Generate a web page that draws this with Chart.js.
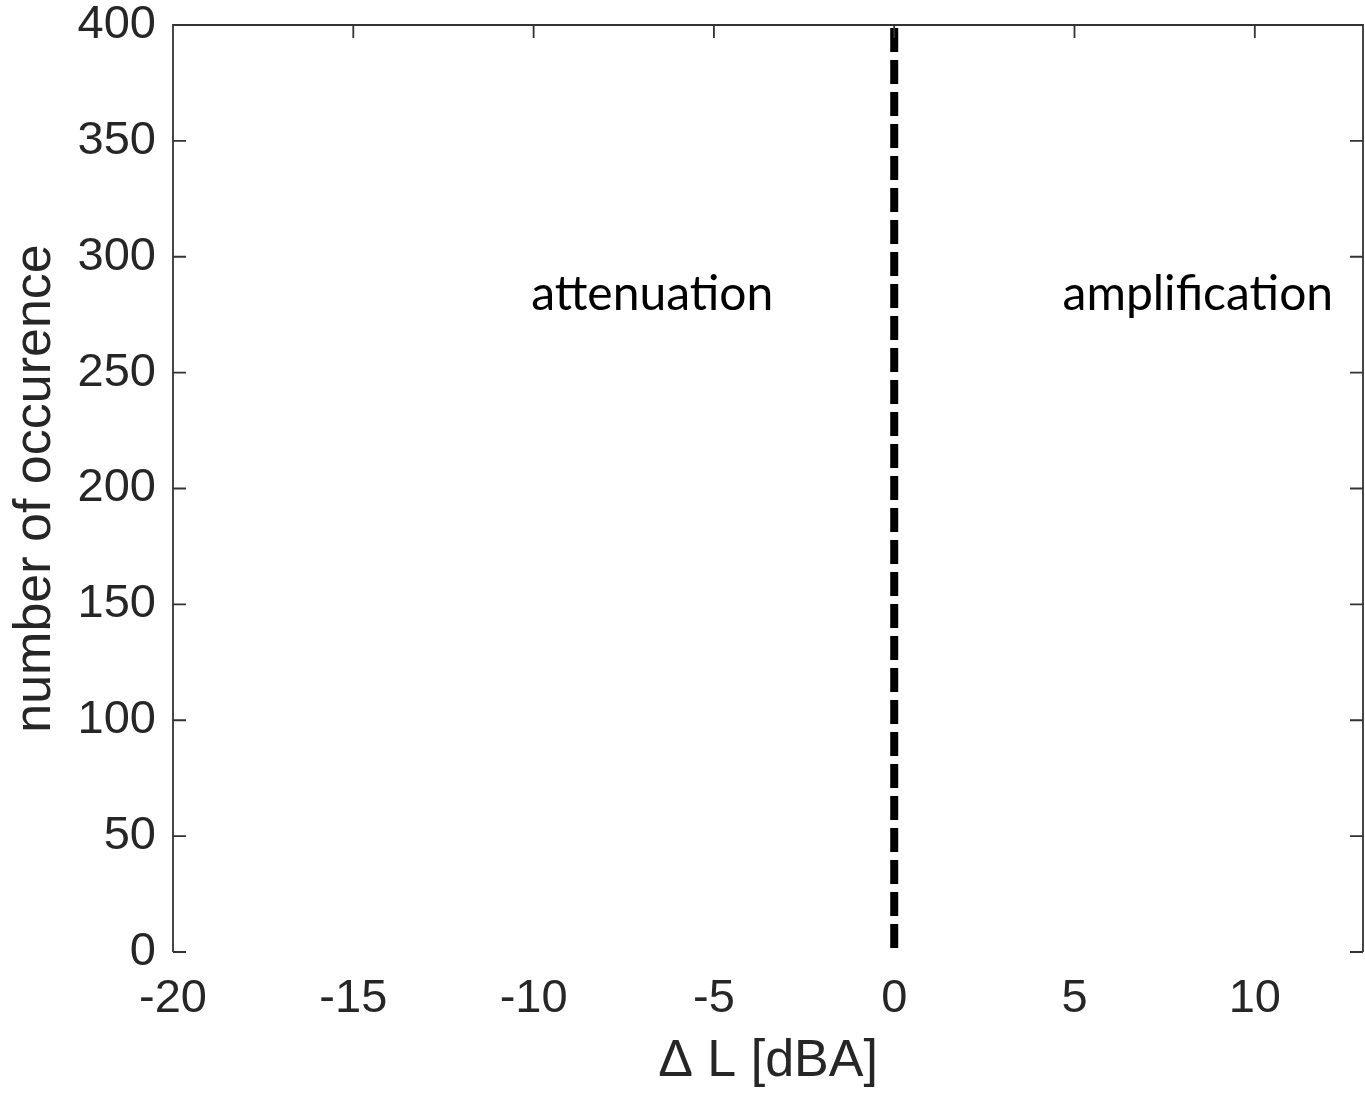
<!DOCTYPE html>
<html>
<head>
<meta charset="utf-8">
<title>Delta L histogram</title>
<script src="https://cdn.jsdelivr.net/npm/chart.js@4.4.1/dist/chart.umd.min.js"></script>
<style>
  html, body { margin: 0; padding: 0; background: #fff; }
  #wrap { width: 1365px; height: 1096px; position: relative; }
</style>
</head>
<body>
<div id="wrap"><canvas id="chart"></canvas></div>
<script>
// axis ranges and tick values
const xMin = -20
const xMax = 13
const yMin = 0
const yMax = 400
const xTicks = [-20, -15, -10, -5, 0, 5, 10]
const yTicks = [0, 50, 100, 150, 200, 250, 300, 350, 400]

// dashed divider at dL = 0
const dividerX = [0, 0]
const dividerY = [400, 0]

// region names written inside the plot
const regionNames = ['attenuation', 'amplification']
const regionX = [-6.71, 8.42]
const regionY = [277, 277]

const axisColor = '#262626'
const tickFont = { family: "'Liberation Sans', Arial, sans-serif", size: 47, lineHeight: 1 }
const titleFont = { family: "'Liberation Sans', Arial, sans-serif", size: 52, lineHeight: 1 }

// box on three sides plus inward tick marks, like a matlab axes
const framePlugin = {
  id: 'frame',
  afterDraw(chart) {
    const { ctx, chartArea: a, scales: { x, y } } = chart
    const len = 13
    ctx.save()
    ctx.strokeStyle = '#333'
    ctx.lineWidth = 1.8
    ctx.beginPath()
    ctx.moveTo(a.left, a.bottom)
    ctx.lineTo(a.left, a.top)
    ctx.lineTo(a.right, a.top)
    ctx.lineTo(a.right, a.bottom)
    xTicks.forEach((v) => {
      const px = x.getPixelForValue(v)
      ctx.moveTo(px, a.top)
      ctx.lineTo(px, a.top + len)
    })
    yTicks.forEach((v) => {
      const py = y.getPixelForValue(v)
      ctx.moveTo(a.left, py)
      ctx.lineTo(a.left + len, py)
      ctx.moveTo(a.right, py)
      ctx.lineTo(a.right - len, py)
    })
    ctx.stroke()

    // region labels
    ctx.fillStyle = '#000'
    ctx.font = "48px Lato, 'Open Sans', sans-serif"
    ctx.textAlign = 'center'
    ctx.textBaseline = 'alphabetic'
    regionNames.forEach((name, i) => {
      ctx.fillText(name, x.getPixelForValue(regionX[i]), y.getPixelForValue(regionY[i]))
    })
    ctx.restore()
  },
}

const ctx = document.getElementById('chart').getContext('2d')
new Chart(ctx, {
  type: 'scatter',
  data: {
    datasets: [
      {
        data: dividerX.map((v, i) => ({ x: v, y: dividerY[i] })),
        showLine: true,
        borderColor: '#000',
        borderWidth: 8,
        borderDash: [24, 8],
        borderDashOffset: -3,
        borderCapStyle: 'butt',
        pointRadius: 0,
      },
    ],
  },
  options: {
    responsive: true,
    maintainAspectRatio: false,
    animation: false,
    layout: { padding: { top: 25, right: 2, left: 0, bottom: 0 } },
    plugins: { legend: { display: false }, tooltip: { enabled: false } },
    scales: {
      x: {
        type: 'linear',
        min: xMin,
        max: xMax,
        afterBuildTicks: (s) => { s.ticks = xTicks.map((v) => ({ value: v })) },
        afterFit: (s) => {
          s.height = 144
          s.paddingLeft = 0
          s.paddingRight = 0
        },
        grid: { display: false, drawTicks: false },
        border: { display: false },
        ticks: { color: axisColor, font: tickFont, padding: 24, maxRotation: 0 },
        title: { display: true, text: '\u0394 L [dBA]', color: axisColor, font: titleFont, padding: { top: 0, bottom: 8 } },
      },
      y: {
        type: 'linear',
        min: yMin,
        max: yMax,
        afterBuildTicks: (s) => { s.ticks = yTicks.map((v) => ({ value: v })) },
        afterFit: (s) => {
          s.width = 173
          s.paddingTop = 0
          s.paddingBottom = 0
        },
        grid: { display: false, drawTicks: false },
        border: { display: false },
        ticks: { color: axisColor, font: tickFont, padding: 17 },
        title: { display: true, text: 'number of occurence', color: axisColor, font: titleFont, padding: { top: 10, bottom: 0 } },
      },
    },
  },
  plugins: [framePlugin],
})
</script>
</body>
</html>
